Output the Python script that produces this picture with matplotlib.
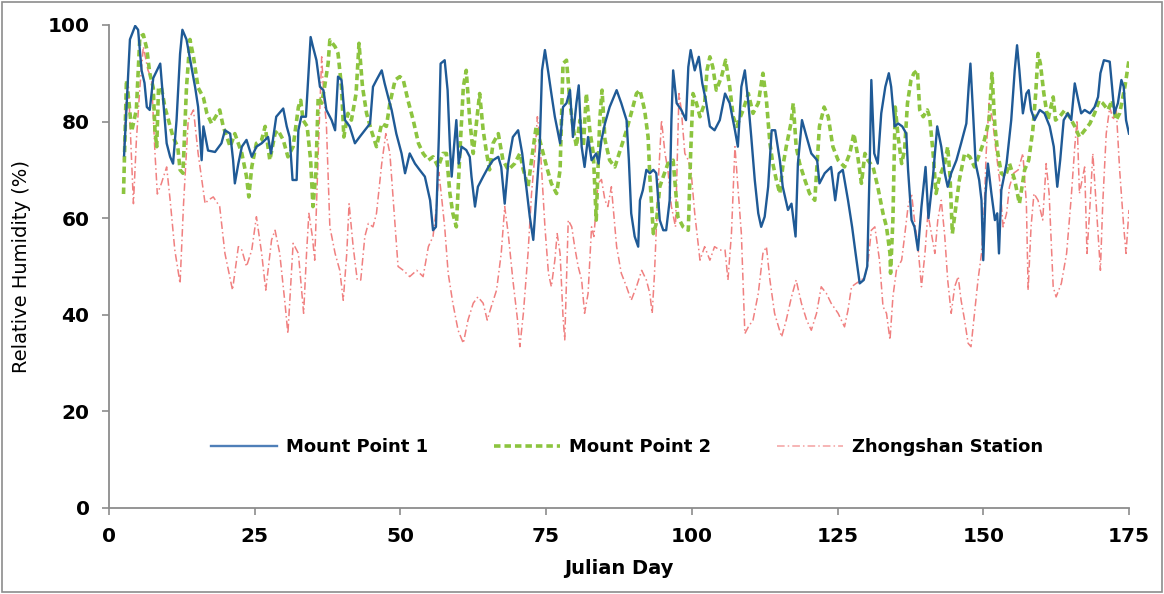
import matplotlib
matplotlib.use("Agg")
import matplotlib.pyplot as plt
from matplotlib.patches import Rectangle

# Mount Point 1 (day, RH %)
day_mp1 = [2.6, 3.6, 4.5, 5.0, 5.6, 6.1, 6.5, 7.0, 7.6, 8.8, 9.3, 9.9, 10.5, 11.0, 11.6, 12.2, 12.6, 13.3, 13.9, 14.8,
           15.3, 15.9, 16.2, 17.0, 18.2, 19.3, 19.9, 20.8, 21.3, 21.6, 22.2, 22.8, 23.6, 24.5, 25.3, 26.2, 27.3, 27.8,
           28.7, 29.9, 30.5, 31.0, 31.5, 32.2, 32.5, 33.0, 33.8, 34.2, 34.6, 35.0, 35.6, 36.2, 36.8, 37.3, 38.2, 38.8,
           39.3, 39.9, 40.5, 41.3, 42.2, 43.0, 43.9, 44.8, 45.3, 45.9, 46.8, 47.3, 47.9, 48.5, 49.3, 50.2, 50.8, 51.6,
           52.5, 53.3, 54.2, 55.1, 55.6, 56.1, 56.6, 56.9, 57.6, 58.1, 58.5, 58.8, 59.2, 59.6, 60.0, 60.5, 61.3, 61.9,
           62.2, 62.8, 63.3, 64.2, 65.1, 65.9, 66.8, 67.3, 67.9, 68.5, 69.3, 70.2, 70.9, 71.6, 72.2, 72.8, 73.3, 73.9,
           74.3, 74.8, 75.4, 75.9, 76.5, 77.4, 77.9, 78.5, 79.1, 79.6, 80.2, 80.6, 81.1, 81.6, 82.2, 82.8, 83.6, 84.0,
           84.5, 85.1, 85.9, 87.1, 87.9, 88.8, 89.2, 89.6, 90.2, 90.8, 91.1, 91.6, 92.2, 92.8, 93.4, 93.9, 94.5, 95.1,
           95.6, 96.2, 96.5, 96.8, 97.4, 98.2, 99.0, 99.4, 99.8, 100.5, 101.2, 101.8, 102.4, 103.1, 103.9, 104.8, 105.7,
           106.5, 107.4, 107.9, 108.5, 109.1, 109.7, 110.2, 110.8, 111.4, 111.9, 112.5, 113.1, 113.7, 114.3, 115.1,
           115.6, 116.5, 117.1, 117.8, 118.2, 118.9, 119.7, 120.5, 121.5, 121.9, 122.8, 123.9, 124.6, 125.2, 125.9,
           126.8, 127.5, 128.1, 128.8, 129.5, 130.1, 130.5, 130.8, 131.3, 131.9, 132.5, 133.2, 133.8, 134.2, 134.8,
           135.4, 136.1, 136.8, 137.1, 137.7, 138.2, 138.8, 139.4, 140.1, 140.6, 141.4, 142.1, 142.8, 143.4, 143.9,
           144.5, 145.4, 146.2, 147.1, 147.5, 147.8, 148.2, 148.7, 149.3, 149.7, 150.0, 150.4, 150.8, 151.4, 152.0,
           152.4, 152.7, 153.1, 154.0, 154.8, 155.4, 155.8, 156.2, 156.8, 157.4, 157.8, 158.2, 158.8, 159.7, 160.5,
           161.4, 162.1, 162.7, 163.2, 163.8, 164.5, 165.1, 165.7, 166.3, 166.8, 167.4, 168.3, 169.1, 169.7, 170.1,
           170.7, 171.7, 172.1, 172.5, 173.1, 173.7, 174.1, 174.5, 175.0]
rh_mp1 = [73, 97, 99.8, 99, 90.6, 88, 83, 82.4, 89, 92, 84.4, 75.5, 72.7, 71.3, 80.3, 94, 99, 97, 93, 87,
          83, 72, 79, 74, 73.7, 75.5, 78.2, 77.5, 72, 67.2, 71.3, 74.8, 76.2, 72.7, 74.8, 75.5, 76.8, 73.4,
          81, 82.7, 79, 76.8, 67.9, 67.9, 78.2, 81, 81, 89.3, 97.5, 95.5, 92.7, 87.2, 86.5, 82.4, 80.3, 78.2,
          89.3, 88.6, 80.3, 79, 75.5, 76.8, 78.2, 79.6, 87.2, 88.6, 90.6, 87.9, 85.1, 82.4, 77.5, 73.4, 69.3, 73.4,
          71.3, 70, 68.6, 63.7, 57.5, 58.2, 76.8, 92, 92.7, 86.5, 74.8, 68.6, 74.8, 80.3, 71.3, 74.8, 74.1, 72.7,
          68.6, 62.4, 66.5, 68.6, 70.6, 72, 72.7, 70.6, 63, 71.3, 76.8, 78.2, 73.4, 66.5, 60.3, 55.5, 64.4, 74.8,
          90.6, 94.8, 90, 85.8, 81, 75.5, 83, 83.8, 86.5, 76.8, 83.8, 87.5, 74.8, 70.6, 76.8, 72, 73.4, 71.3,
          76.2, 79.6, 83, 86.5, 83.8, 80.3, 72, 61, 56.2, 54.1, 63.7, 65.8, 70, 69.3, 70, 69.3, 59.6, 57.5,
          57.5, 63.7, 80.3, 90.6, 83.8, 82.4, 80.3, 91.3, 94.8, 90.6, 93.4, 87.9, 84.4, 79, 78.2, 80.3, 85.8,
          83.8, 78.2, 74.8, 87.2, 90.6, 83.8, 76.8, 67.9, 61, 58.2, 60.3, 66.5, 78.2, 78.2, 72,
          66.5, 61.7, 63, 56.2, 71.3, 80.3, 76.8, 73.4, 72, 67.2, 69.3, 70.6, 63.7, 69.3, 70,
          63.7, 58.2, 52.7, 46.5, 47.2, 50, 70, 88.6, 73.4, 71.3, 81.7, 87.2, 90, 87.2, 79,
          79.6, 79, 77.5, 70, 59.6, 58.2, 53.4, 62.4, 70.6, 60, 69, 79, 74.8, 69.3, 66.5,
          69.3, 72, 75.5, 79.6, 87.2, 92, 83, 71.3, 67.9, 63.7, 51.3, 65.1, 71.3, 65.1, 59.6,
          61, 52.7, 65.8, 71.3, 80.3, 90.6, 95.8, 90.6, 81.7, 85.8, 86.5, 82.4, 80.3, 82.4, 81.7,
          79, 74.8, 66.5, 72, 80.3, 81.7, 80.3, 87.9, 84.4, 81.7, 82.4, 81.7, 83, 85.1, 90,
          92.7, 92.4, 87.2, 81.7, 83.8, 88.6, 87.2, 80.3, 77.5]

# Mount Point 2
day_mp2 = [2.5, 3.0, 3.4, 3.9, 4.7, 5.3, 5.9, 6.5, 7.0, 7.6, 7.9, 8.2, 8.5, 9.0, 9.6, 10.5, 11.0, 11.8, 12.2, 12.7,
           13.3, 13.9, 14.5, 15.3, 16.2, 16.8, 17.6, 19.0, 19.6, 20.8, 21.6, 22.8, 23.6, 24.0, 24.5, 25.3, 26.2, 26.8,
           27.6, 28.5, 29.0, 29.9, 30.7, 31.6, 32.5, 32.9, 33.3, 34.0, 34.6, 35.0, 35.5, 35.9, 36.5, 37.0, 37.6, 37.9,
           38.8, 39.3, 39.9, 40.3, 41.0, 41.6, 42.4, 42.9, 43.5, 44.2, 45.0, 45.9, 46.8, 47.6, 48.2, 49.1, 49.9, 50.5,
           51.3, 52.2, 53.1, 53.9, 54.8, 55.6, 56.5, 57.3, 57.9, 58.5, 59.0, 59.6, 60.2, 60.8, 61.3, 61.9, 62.5, 63.1,
           63.6, 64.2, 64.8, 65.3, 65.9, 66.8, 67.6, 68.5, 69.6, 70.5, 71.1, 71.9, 72.5, 73.3, 74.2, 75.1, 75.9, 76.8,
           77.4, 77.9, 78.5, 79.1, 79.6, 80.2, 80.8, 81.4, 81.9, 82.5, 83.1, 83.6, 84.2, 84.6, 85.1, 85.9, 86.8, 87.9,
           88.8, 89.6, 90.5, 91.1, 91.9, 92.5, 92.8, 93.4, 93.9, 94.5, 95.1, 95.9, 96.8, 97.6, 98.5, 99.4, 99.8, 100.2,
           100.8, 101.4, 102.2, 102.6, 103.1, 103.6, 104.2, 105.1, 105.8, 106.5, 107.1, 107.7, 108.8, 109.7, 110.5,
           111.4, 112.2, 112.8, 113.4, 113.9, 114.5, 115.1, 115.6, 116.2, 117.0, 117.4, 117.9, 118.5, 119.4, 120.2,
           121.1, 121.9, 122.7, 123.4, 124.2, 125.1, 126.2, 127.1, 127.8, 128.4, 129.1, 129.7, 130.2, 131.1, 131.9,
           132.8, 133.4, 134.0, 134.1, 134.5, 134.9, 135.4, 136.0, 136.5, 137.0, 137.6, 138.1, 138.7, 139.1, 139.7,
           140.4, 140.8, 141.4, 141.9, 142.5, 143.4, 143.9, 144.3, 144.7, 145.3, 145.9, 146.8, 147.7, 148.5, 149.4,
           150.2, 151.0, 151.5, 152.0, 152.5, 153.1, 153.8, 154.5, 155.4, 156.2, 157.1, 157.8, 158.5, 159.0, 159.4,
           159.8, 160.4, 161.1, 162.0, 162.4, 163.1, 164.0, 164.8, 165.7, 166.5, 167.4, 168.3, 169.1, 169.9, 170.5,
           171.4, 172.1, 172.8, 173.4, 174.3, 175.0]
rh_mp2 = [65, 88.6, 84.4, 78, 82.4, 97.5, 98, 95, 90, 87, 78, 74.8, 87, 87, 83, 79, 76.8, 74.8, 70, 69.3,
          87, 97, 93.4, 87, 85, 81.7, 79.6, 82.4, 79, 74.8, 77.5, 73.4, 68.6, 64.4, 70.6, 75.5, 76.2, 79,
          72, 77.5, 78.2, 76.2, 72.7, 74.8, 83, 84.4, 80.3, 79, 72, 62.4, 69.3, 85.1, 83.8, 87.2, 92, 96.9,
          95.5, 94.1, 87.2, 76.8, 81.7, 80.3, 85.8, 96.2, 87.2, 81.7, 78.2, 74.8, 79.6, 79, 83.8, 88.6, 89.3, 88.6,
          84.4, 80.3, 75.5, 73.4, 72, 72.7, 70.6, 73.4, 73.4, 65.1, 61, 58.2, 73.4, 87.2, 90.6, 80.3, 73.4, 80.3,
          85.8, 78.2, 73.4, 70, 75.5, 77.5, 72, 70, 71.3, 73.4, 70, 66.5, 72, 79, 74.8, 70.6, 67.2, 65.1,
          70, 92, 92.7, 83.8, 79, 74.8, 80.3, 74.8, 85.8, 78.2, 73.4, 59.6, 80.3, 86.5, 76.2, 72, 70.6, 74.8,
          78.2, 81.7, 85.8, 86.5, 82.4, 76.8, 68.6, 56.8, 58.9, 66.5, 68.6, 71.3, 72, 60.3, 58.2, 57.5, 73.4, 85.8,
          83.8, 81, 83.8, 90.6, 93.4, 91.3, 86.5, 89.3, 92.7, 87.2, 81, 79, 82.4, 85.8, 81.7,
          83.8, 90, 84.4, 75.5, 71.3, 67.9, 65.1, 70.6, 74.8, 79.6, 83.8, 74.8, 71.3, 67.9, 65.1,
          63.7, 79, 83, 81, 74.8, 72, 70.6, 73.4, 77.5, 73.4, 67.2, 73.4, 72, 70.6, 66.5,
          61, 58.2, 52.7, 48.6, 59.6, 83, 76.8, 71.3, 74.1, 83.8, 88.6, 90, 90.6, 82.4, 81,
          82.4, 81, 73.4, 65.1, 68.6, 71.3, 74.8, 68.6, 56.8, 62.4, 67.9, 73.4, 72.7, 70.6, 73.4,
          76.2, 80.3, 90, 79, 73.4, 69.3, 68.6, 71.3, 67.9, 63, 70, 72, 78.2, 85.8, 94.1,
          92, 85.8, 80.3, 85.1, 80.3, 81, 82.4, 81, 79, 76.8, 78.2, 79.6, 81.7, 84.4, 83.8,
          82.4, 84.4, 80.3, 81.7, 87.2, 92.7]

# Zhongshan Station
day_zs = [2.5, 2.9, 3.3, 4.2, 4.7, 5.3, 5.9, 6.7, 7.3, 7.9, 8.3, 9.0, 9.9, 10.5, 11.3, 12.2, 12.8, 13.6, 14.5, 15.3,
          16.5, 17.0, 17.9, 19.0, 19.9, 21.2, 22.2, 22.8, 23.6, 24.5, 25.3, 26.2, 26.9, 27.9, 28.5, 29.3, 30.2, 30.7,
          31.1, 31.6, 32.5, 33.0, 33.4, 33.9, 34.3, 34.9, 35.3, 35.9, 36.5, 36.9, 37.3, 37.9, 38.8, 39.6, 40.2, 40.8,
          41.2, 41.9, 42.6, 43.2, 43.9, 44.5, 45.3, 45.9, 46.8, 47.5, 48.2, 49.1, 49.6, 50.5, 51.6, 52.8, 53.9, 54.8,
          55.6, 56.2, 56.6, 57.1, 57.6, 58.2, 59.0, 59.9, 60.8, 61.6, 62.5, 63.3, 64.2, 64.9, 65.6, 66.5, 67.3, 67.9,
          68.5, 69.3, 70.1, 70.5, 71.1, 71.9, 72.5, 73.1, 73.5, 73.9, 74.8, 75.4, 75.9, 76.5, 76.9, 77.4, 77.9, 78.2,
          78.8, 79.4, 79.9, 80.5, 81.1, 81.6, 82.2, 82.8, 83.2, 83.9, 84.5, 85.1, 85.6, 86.2, 87.1, 87.9, 88.8, 89.6,
          90.5, 91.4, 92.2, 92.8, 93.2, 93.6, 94.2, 94.8, 95.4, 95.9, 96.5, 97.2, 97.8, 98.2, 98.8, 99.4, 99.9, 100.5,
          101.4, 102.2, 103.1, 103.9, 104.8, 105.7, 106.2, 106.8, 107.4, 107.9, 108.5, 109.1, 109.7, 110.5, 111.4,
          112.2, 112.8, 113.4, 114.2, 115.4, 116.2, 117.1, 117.9, 118.8, 119.7, 120.5, 121.4, 122.2, 123.1, 123.9,
          125.1, 126.2, 126.8, 127.4, 128.2, 129.1, 129.7, 130.2, 130.8, 131.4, 132.2, 132.8, 133.4, 134.0, 134.5,
          135.1, 136.0, 136.5, 137.1, 137.7, 138.2, 138.8, 139.4, 140.0, 140.5, 141.1, 141.7, 142.2, 142.8, 143.4,
          143.9, 144.5, 145.1, 145.7, 146.2, 146.8, 147.4, 147.9, 148.5, 149.1, 149.7, 150.1, 150.5, 151.0, 151.6,
          152.1, 152.8, 153.4, 154.0, 154.5, 155.2, 156.0, 156.8, 157.4, 157.7, 158.2, 158.7, 159.4, 160.2, 160.8,
          161.3, 162.0, 162.5, 163.4, 164.3, 165.1, 165.7, 166.1, 166.5, 167.4, 167.8, 168.3, 168.8, 169.4, 170.1,
          170.5, 171.1, 171.7, 172.3, 172.8, 173.4, 174.1, 174.5, 175.0]
rh_zs = [72, 83.8, 88.6, 63, 76, 87, 95.5, 90.6, 89, 73.4, 65, 67.2, 70.6, 63.7, 53.4, 46.5, 63, 80.3, 82.4, 73.4,
         63, 63.7, 64.4, 62.4, 52.7, 45.1, 54.1, 53.4, 50, 53.4, 60.3, 52.7, 45.1, 55.5, 57.5, 52.7, 42.4, 36.1,
         44.4, 54.8, 52.7, 45.8, 40.3, 52.7, 61, 56.2, 51.3, 73.4, 93.4, 84.4, 79.6, 58.2, 52.7, 49.2, 43, 52.7,
         63, 54.1, 47.2, 47.2, 56.2, 58.9, 58.2, 61, 71.3, 77.5, 73.4, 58.2, 50, 49.2, 47.9, 49.2, 47.9, 54.1,
         56.2, 62.4, 69.5, 64, 58.2, 48.6, 42.4, 36.8, 34.1, 38.9, 42.4, 43.7, 42.4, 38.9, 41.7, 45.1, 52.7, 62.4,
         56.8, 47.2, 38.9, 33.4, 40.3, 52.7, 65.1, 73.4, 81, 76.8, 58.2, 48.6, 45.8, 51.3, 56.8, 52.7, 39.6, 34.8,
         59.6, 58.2, 54.1, 50, 47.2, 40.3, 44.4, 58.2, 56.2, 67.2, 68, 63.7, 62.4, 66.5, 54.1, 48.6, 45.8, 43,
         45.8, 49.2, 47.2, 44.4, 40.3, 48.6, 66.5, 80.3, 73.4, 70, 62.4, 58.2, 85.8, 82.4, 73.4, 72, 69.3, 61,
         51.3, 54.1, 51.3, 54.1, 53.4, 53.4, 47.2, 56.8, 74.8, 66.5, 56.8, 36.1, 37.5, 38.9, 44.4,
         52.7, 54.1, 47.2, 40.3, 35.4, 38.9, 43.7, 47.2, 42.4, 38.9, 36.8, 40.3, 45.8, 44.4, 42.4,
         40.3, 37.5, 41, 45.8, 46.5, 47.2, 47.9, 50.6, 57.5, 58.2, 51.3, 41.7, 40.3, 34.8, 43.7,
         49.2, 51.3, 56.2, 62.4, 65.1, 59.6, 54.1, 45.8, 52.7, 61, 56.8, 52.7, 59.6, 63.7, 56.2,
         47.2, 40.3, 45.8, 47.9, 43, 38.9, 34.1, 33.4, 40.3, 47.2, 52.7, 59.6, 73.4, 83.8, 80.3,
         74.8, 67.9, 58.2, 61, 66.5, 69.3, 70, 73.4, 63, 45.1, 58.2, 65.1, 63.7, 59.6, 71.3,
         65.1, 45.8, 43.7, 46.5, 52.7, 64.4, 74.8, 80.3, 65.1, 70.6, 52.7, 62.4, 73.4, 62.4, 49.2,
         63, 77.5, 83, 80.3, 83, 70, 58.2, 52.7, 61.7]

x_ticks = [0, 25, 50, 75, 100, 125, 150, 175]
y_ticks = [0, 20, 40, 60, 80, 100]

plt.rcParams['font.family'] = ['DejaVu Sans']

fig = plt.figure(figsize=(11.64, 5.94), dpi=100)
ax = fig.add_axes([0.0936, 0.1448, 0.8763, 0.8132])

ax.plot(day_mp1, rh_mp1, color='#1F5A96', lw=1.7, label='Mount Point 1', zorder=3)
ax.plot(day_mp2, rh_mp2, color='#8CC43F', lw=2.6, dashes=(1.8, 1.1), label='Mount Point 2', zorder=2)
ax.plot(day_zs, rh_zs, color='#F08080', lw=1.1, dashes=(5, 2, 1, 2), label='Zhongshan Station', zorder=1)

ax.set_xlim(0, 175)
ax.set_ylim(0, 100)
ax.set_xticks(x_ticks)
ax.set_yticks(y_ticks)
for s in ['top', 'right']:
    ax.spines[s].set_visible(False)
for s in ['left', 'bottom']:
    ax.spines[s].set_color('#8C8C8C')
    ax.spines[s].set_linewidth(1.3)
ax.tick_params(axis='both', direction='out', length=5, width=1.2, color='#8C8C8C',
               labelsize=14.5)
ax.tick_params(axis='y', pad=9)
ax.tick_params(axis='x', pad=9)
for lab in ax.get_xticklabels() + ax.get_yticklabels():
    lab.set_fontweight('bold')

ax.set_xlabel('Julian Day', fontsize=14, fontweight='bold', labelpad=9)
ax.set_ylabel('Relative Humidity (%)', fontsize=14, labelpad=12)

leg = ax.legend(loc='center', bbox_to_anchor=(0.508, 0.126), ncol=3, frameon=False,
                handlelength=3.65, columnspacing=3.65, handletextpad=0.5,
                prop={'size': 13, 'weight': 'bold'})
leg.get_lines()[0].set_color('#4F7FB8')
leg.get_lines()[2].set_color('#F4A0A0')

# chart area border
fig.patches.append(Rectangle((0.002, 0.003), 0.996, 0.994, transform=fig.transFigure,
                             fill=False, edgecolor='#8C8C8C', lw=1.2))

fig.savefig('out.png', dpi=100)
